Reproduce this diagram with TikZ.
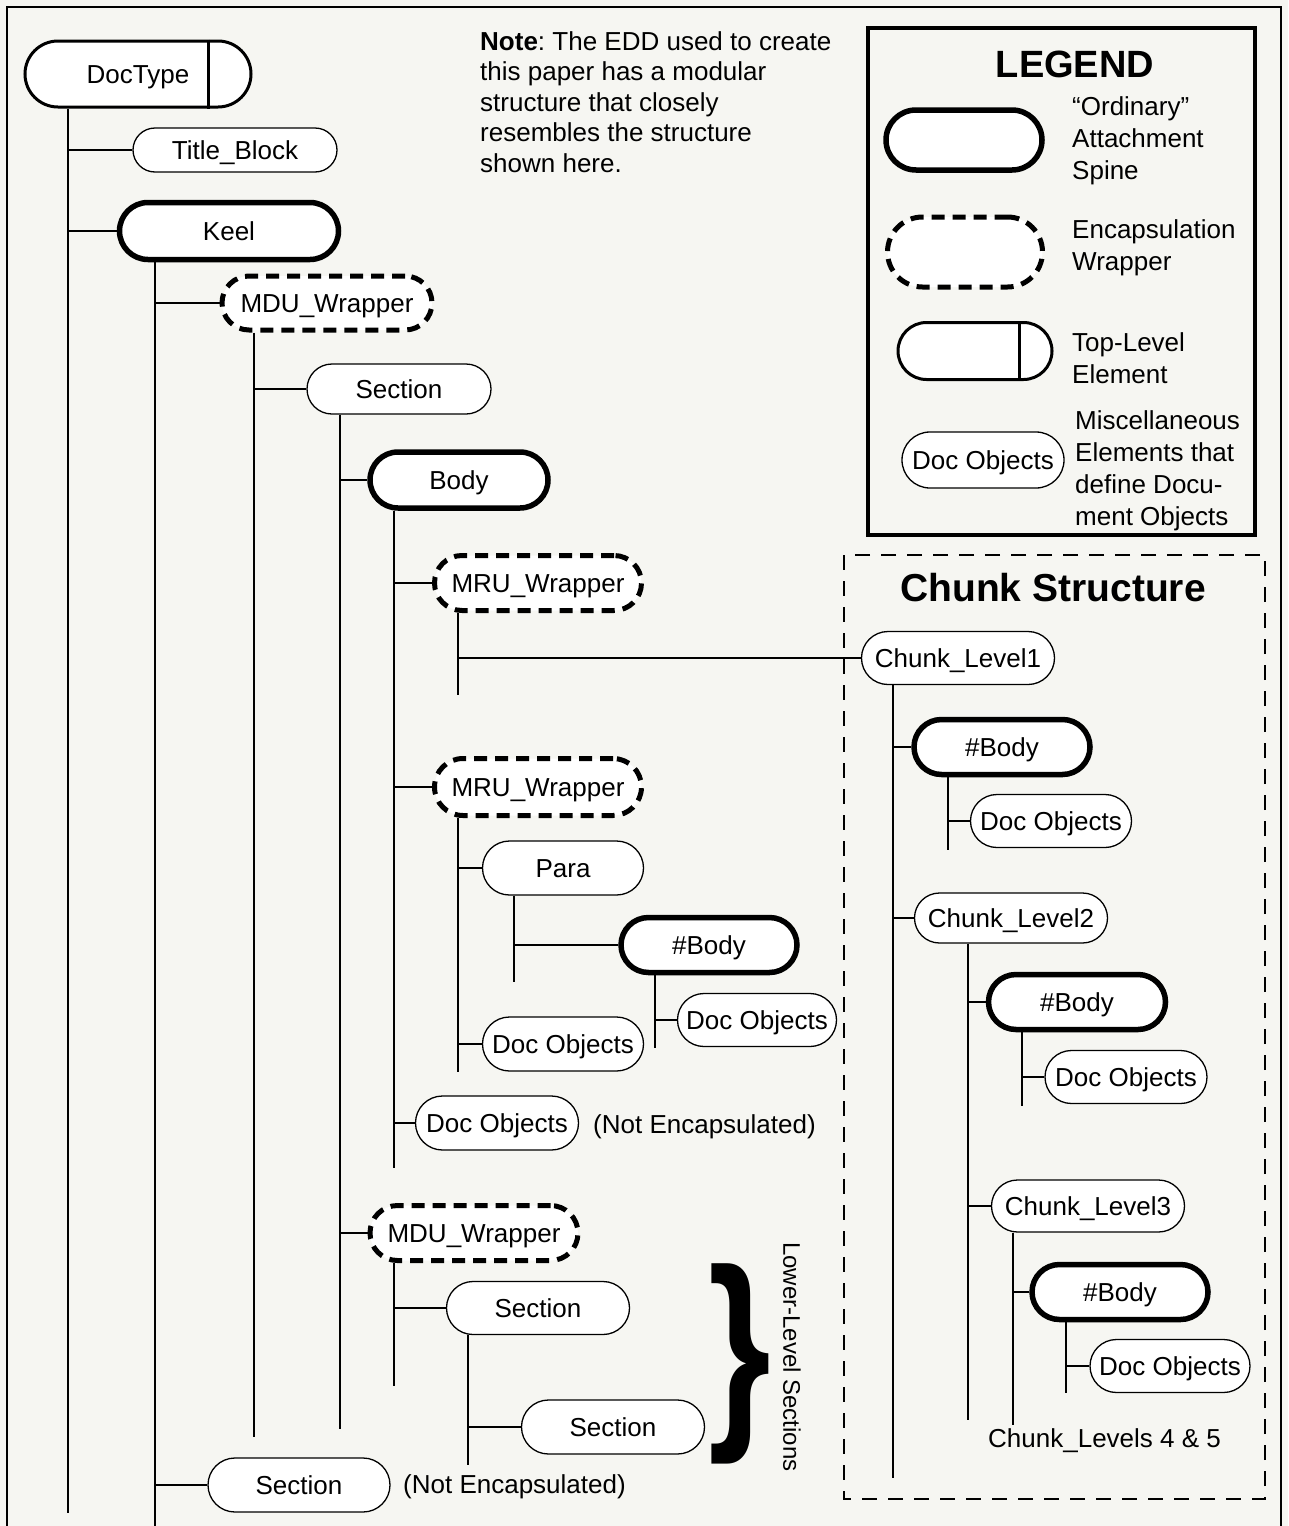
\documentclass[tikz,border=0pt]{standalone}
\usepackage{fontspec}
\setmainfont{Liberation Sans}
\frenchspacing
\definecolor{paper}{RGB}{246,246,242}
\newcommand\lbl{\fontsize{26pt}{30.5pt}\selectfont}
\newcommand\legfont{\fontsize{26pt}{32pt}\selectfont}
\tikzset{
  pill/.style 2 args={draw, fill=white, inner sep=0pt, font=\lbl,
    text height=18.6pt, text depth=0pt,
    minimum width=#1, minimum height=#2, rounded corners={#2/2}},
  thinbox/.style={line width=1.3pt},
  thickbox/.style={line width=5.5pt},
  wrapbox/.style={line width=5pt, dash pattern=on 13pt off 8pt},
  topbox/.style={line width=3pt},
  link/.style={line width=2pt},
  plain/.style={inner sep=0pt, font=\lbl},
  oneline/.style={plain, text height=18.6pt, text depth=0pt},
}
\begin{document}
\begin{tikzpicture}[x=1pt,y=-1pt]
\useasboundingbox (0,0) rectangle (1288,1526);
\fill[paper] (0,0) rectangle (1288,1526);

% outer frame (open at the bottom)
\draw[line width=2pt] (7,1526) |- (1281,7) -- (1281,1526);

% note
\node[plain, anchor=north west, align=left] (note) at (480,31)
  {\textbf{Note}: The EDD used to create\\this paper has a modular\\structure that closely\\resembles the structure\\shown here.};

% legend
\draw[line width=3.5pt] (868,28) rectangle (1255,535);
\node[inner sep=0pt, font=\fontsize{38pt}{38pt}\selectfont\bfseries] (legtitle) at (1075,64) {LEGEND};
\node[pill={156}{60}, thickbox] (legOrd) at (964,140) {};
\node[pill={155}{70}, wrapbox] (legEnc) at (965,252) {};
\node[pill={154}{57}, topbox] (legTop) at (975,351) {};
\draw[topbox] ([xshift=-34pt]legTop.north east) -- ([xshift=-34pt]legTop.south east);
\node[pill={162}{56}, thinbox] (legDoc) at (983,460) {Doc Objects};
\node[plain, font=\legfont, anchor=north west, align=left] (legOrdTxt) at (1072,96) {“Ordinary”\\Attachment\\Spine};
\node[plain, font=\legfont, anchor=north west, align=left] (legEncTxt) at (1072,219) {Encapsulation\\Wrapper};
\node[plain, font=\legfont, anchor=north west, align=left] (legTopTxt) at (1072,332) {Top-Level\\Element};
\node[plain, font=\legfont, anchor=north west, align=left] (legDocTxt) at (1075,410) {Miscellaneous\\Elements that\\define Docu-\\ment Objects};

% main tree
\node[pill={226}{66}, topbox] (doctype) at (138,74) {DocType};
\draw[topbox] ([xshift=-44pt]doctype.north east) -- ([xshift=-44pt]doctype.south east);
\node[pill={204}{44}, thinbox] (title) at (235,150) {Title\_Block};
\node[pill={219}{57}, thickbox] (keel) at (229,231) {Keel};
\node[pill={210}{54}, wrapbox] (mdu1) at (327,303) {MDU\_Wrapper};
\node[pill={184}{50}, thinbox] (sec1) at (399,389) {Section};
\node[pill={178}{56}, thickbox] (body) at (459,480) {Body};
\node[pill={207}{55}, wrapbox] (mru1) at (538,583) {MRU\_Wrapper};
\node[pill={207}{57}, wrapbox] (mru2) at (538,787) {MRU\_Wrapper};
\node[pill={161}{54}, thinbox] (para) at (563,868) {Para};
\node[pill={176}{55}, thickbox] (pbody) at (709,945) {\#Body};
\node[pill={159}{53}, thinbox] (pdoc) at (757,1020) {Doc Objects};
\node[pill={161}{54}, thinbox] (mdoc) at (563,1044) {Doc Objects};
\node[pill={163}{54}, thinbox] (ndoc) at (497,1123) {Doc Objects};
\node[oneline, anchor=west] (ndocTxt) at (593,1124) {(Not Encapsulated)};
\node[pill={208}{55}, wrapbox] (mdu2) at (474,1233) {MDU\_Wrapper};
\node[pill={183}{53}, thinbox] (sec2) at (538,1308) {Section};
\node[pill={183}{54}, thinbox] (sec3) at (613,1427) {Section};
\node[pill={182}{54}, thinbox] (sec4) at (299,1485) {Section};
\node[oneline, anchor=west] (sec4Txt) at (403,1484) {(Not Encapsulated)};

% lower-level sections brace
\node[inner sep=0pt, xscale=0.75, font=\fontsize{215pt}{215pt}\selectfont\bfseries] (brace) at (740,1364) {\}};
\node[inner sep=0pt, rotate=-90, font=\fontsize{24pt}{24pt}\selectfont] (llsTxt) at (792,1357) {Lower-Level Sections};

% chunk structure
\draw[line width=1.8pt, dash pattern=on 15pt off 11pt] (844,555) rectangle (1265,1499);
\node[inner sep=0pt, font=\fontsize{39pt}{39pt}\selectfont\bfseries] (chunkTitle) at (1053,588) {Chunk Structure};
\node[pill={193}{53}, thinbox] (c1) at (958,658) {Chunk\_Level1};
\node[pill={176}{55}, thickbox] (cb1) at (1002,747) {\#Body};
\node[pill={161}{53}, thinbox] (cd1) at (1051,821) {Doc Objects};
\node[pill={193}{50}, thinbox] (c2) at (1011,918) {Chunk\_Level2};
\node[pill={177}{55}, thickbox] (cb2) at (1077,1002) {\#Body};
\node[pill={162}{53}, thinbox] (cd2) at (1126,1077) {Doc Objects};
\node[pill={193}{52}, thinbox] (c3) at (1088,1206) {Chunk\_Level3};
\node[pill={176}{55}, thickbox] (cb3) at (1120,1292) {\#Body};
\node[pill={160}{53}, thinbox] (cd3) at (1170,1366) {Doc Objects};
\node[oneline, anchor=west] (c45) at (988,1438) {Chunk\_Levels 4 \& 5};

% spine ends
\coordinate (sDoc) at (68,1513);
\coordinate (sKeel) at (155,1526);
\coordinate (sMdu1) at (254,1437);
\coordinate (sSec1) at (340,1429);
\coordinate (sBody) at (394,1168);
\coordinate (sMru1) at (458,695);
\coordinate (sMru2) at (458,1072);
\coordinate (sPara) at (514,982);
\coordinate (sPbody) at (655,1048);
\coordinate (sMdu2) at (394,1386);
\coordinate (sSec2) at (468,1465);
\coordinate (sC1) at (893,1478);
\coordinate (sCb1) at (948,850);
\coordinate (sC2) at (968,1420);
\coordinate (sCb2) at (1022,1106);
\coordinate (sC3) at (1013,1425);
\coordinate (sCb3) at (1066,1393);

% spines
\draw[link] (doctype.south -| sDoc) -- (sDoc);
\draw[link] (keel.south -| sKeel) -- (sKeel);
\draw[link] (mdu1.south -| sMdu1) -- (sMdu1);
\draw[link] (sec1.south -| sSec1) -- (sSec1);
\draw[link] (body.south -| sBody) -- (sBody);
\draw[link] (mru1.south -| sMru1) -- (sMru1);
\draw[link] (mru2.south -| sMru2) -- (sMru2);
\draw[link] (para.south -| sPara) -- (sPara);
\draw[link] (pbody.south -| sPbody) -- (sPbody);
\draw[link] (mdu2.south -| sMdu2) -- (sMdu2);
\draw[link] (sec2.south -| sSec2) -- (sSec2);
\draw[link] (c1.south -| sC1) -- (sC1);
\draw[link] (cb1.south -| sCb1) -- (sCb1);
\draw[link] (c2.south -| sC2) -- (sC2);
\draw[link] (cb2.south -| sCb2) -- (sCb2);
\draw[link] (c3.south -| sC3) -- (sC3);
\draw[link] (cb3.south -| sCb3) -- (sCb3);

% branches
\draw[link] (sDoc |- title.west) -- (title.west);
\draw[link] (sDoc |- keel.west) -- (keel.west);
\draw[link] (sKeel |- mdu1.west) -- (mdu1.west);
\draw[link] (sKeel |- sec4.west) -- (sec4.west);
\draw[link] (sMdu1 |- sec1.west) -- (sec1.west);
\draw[link] (sSec1 |- body.west) -- (body.west);
\draw[link] (sSec1 |- mdu2.west) -- (mdu2.west);
\draw[link] (sBody |- mru1.west) -- (mru1.west);
\draw[link] (sBody |- mru2.west) -- (mru2.west);
\draw[link] (sBody |- ndoc.west) -- (ndoc.west);
\draw[link] (sMru1 |- c1.west) -- (c1.west);
\draw[link] (sMru2 |- para.west) -- (para.west);
\draw[link] (sMru2 |- mdoc.west) -- (mdoc.west);
\draw[link] (sPara |- pbody.west) -- (pbody.west);
\draw[link] (sPbody |- pdoc.west) -- (pdoc.west);
\draw[link] (sMdu2 |- sec2.west) -- (sec2.west);
\draw[link] (sSec2 |- sec3.west) -- (sec3.west);
\draw[link] (sC1 |- cb1.west) -- (cb1.west);
\draw[link] (sC1 |- c2.west) -- (c2.west);
\draw[link] (sCb1 |- cd1.west) -- (cd1.west);
\draw[link] (sC2 |- cb2.west) -- (cb2.west);
\draw[link] (sC2 |- c3.west) -- (c3.west);
\draw[link] (sCb2 |- cd2.west) -- (cd2.west);
\draw[link] (sC3 |- cb3.west) -- (cb3.west);
\draw[link] (sCb3 |- cd3.west) -- (cd3.west);
\end{tikzpicture}
\end{document}
